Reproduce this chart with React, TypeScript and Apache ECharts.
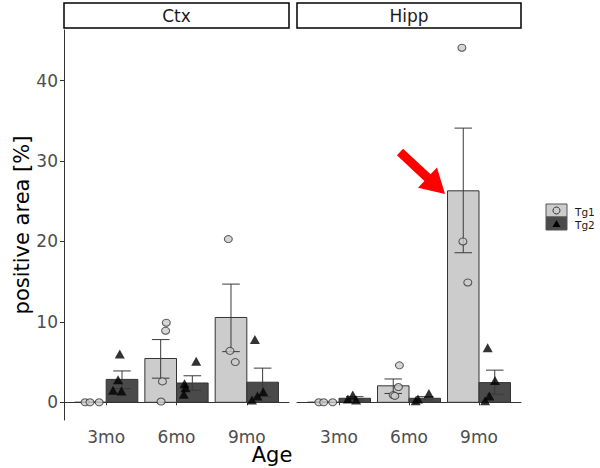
import React, { useEffect, useRef } from "react";
import * as echarts from "echarts";

const ages = ["3mo", "6mo", "9mo"];
const regions = ["Ctx", "Hipp"];
const groups = ["Tg1", "Tg2"];
const yTicks = [0, 10, 20, 30, 40];
const ageTicks = [1, 2, 3];

// bar means per age (3mo, 6mo, 9mo)
const ctxTg1Mean = [0, 5.45, 10.55];
const ctxTg2Mean = [2.85, 2.4, 2.5];
const hippTg1Mean = [0, 2.05, 26.3];
const hippTg2Mean = [0.5, 0.5, 2.45];

// error bars [low, high]
const ctxTg1Err = [[0, 0], [3.0, 7.8], [6.3, 14.7]];
const ctxTg2Err = [[1.7, 3.9], [1.5, 3.3], [0.7, 4.25]];
const hippTg1Err = [[0, 0], [1.1, 2.9], [18.6, 34.1]];
const hippTg2Err = [[0.3, 0.7], [0.3, 0.7], [1.0, 4.0]];

// individual animals [jittered x position on age axis, value]
const ctxTg1Pts = [[0.7, 0], [0.77, 0], [0.9, 0], [1.855, 9.9], [1.845, 8.9], [1.8, 2.6], [1.78, 0.1], [2.737, 20.3], [2.76, 6.4], [2.836, 5.0]];
const ctxTg2Pts = [[1.193, 6.0], [1.169, 2.8], [1.098, 1.5], [1.217, 1.4], [2.28, 5.1], [2.114, 2.3], [2.128, 1.8], [2.104, 1.0], [3.115, 7.8], [3.233, 1.3], [3.152, 0.8], [3.073, 0.3]];
const hippTg1Pts = [[0.712, 0], [0.782, 0], [0.91, 0], [1.863, 4.6], [1.849, 1.9], [1.774, 0.9], [1.798, 0.8], [2.756, 44.1], [2.77, 20.0], [2.84, 14.9]];
const hippTg2Pts = [[1.197, 0.9], [1.127, 0.4], [1.245, 0.3], [2.284, 1.1], [2.128, 0.4], [2.095, 0.2], [3.124, 6.8], [3.229, 2.7], [3.148, 0.8], [3.087, 0.2]];

const FONT = "DejaVu Sans";
const TG1_FILL = "#cccccc";
const TG2_FILL = "#4a4a4a";
const DODGE = 0.225;

function barSeries(name: string, grid: number, means: number[], offset: number, fill: string) {
  return {
    name,
    type: "custom",
    xAxisIndex: grid,
    yAxisIndex: grid,
    z: 2,
    data: means.map((m, i) => [i + 1 + offset, m]),
    renderItem: (params: any, api: any) => {
      const x = api.value(0);
      const y = api.value(1);
      const p1 = api.coord([x - DODGE, y]);
      const p2 = api.coord([x + DODGE, 0]);
      return {
        type: "rect",
        shape: {
          x: p1[0],
          y: Math.min(p1[1], p2[1]),
          width: p2[0] - p1[0],
          height: Math.abs(p2[1] - p1[1]),
        },
        style: { fill, stroke: "#333333", lineWidth: 1 },
      };
    },
  };
}

function errSeries(grid: number, errs: number[][], offset: number) {
  return {
    type: "custom",
    xAxisIndex: grid,
    yAxisIndex: grid,
    z: 3,
    data: errs.map((e, i) => [i + 1 + offset, e[0], e[1]]),
    renderItem: (params: any, api: any) => {
      const x = api.value(0);
      const lo = api.coord([x, api.value(1)]);
      const hi = api.coord([x, api.value(2)]);
      const l = api.coord([x - 0.125, 0])[0];
      const r = api.coord([x + 0.125, 0])[0];
      const st = { stroke: "#3a3a3a", lineWidth: 1 };
      return {
        type: "group",
        children: [
          { type: "line", shape: { x1: lo[0], y1: lo[1], x2: hi[0], y2: hi[1] }, style: st },
          { type: "line", shape: { x1: l, y1: lo[1], x2: r, y2: lo[1] }, style: st },
          { type: "line", shape: { x1: l, y1: hi[1], x2: r, y2: hi[1] }, style: st },
        ],
      };
    },
  };
}

function pointSeries(name: string, grid: number, pts: number[][], tri: boolean) {
  return {
    name,
    type: "scatter",
    xAxisIndex: grid,
    yAxisIndex: grid,
    z: 4,
    data: pts,
    symbol: tri ? "triangle" : "circle",
    symbolSize: tri ? [10, 9] : [8, 7],
    itemStyle: tri
      ? { color: "#000000" }
      : { color: TG1_FILL, borderColor: "#333333", borderWidth: 1 },
  };
}

export default function App() {
  const ref = useRef<HTMLDivElement>(null);
  useEffect(() => {
    if (!ref.current) return;
    const chart = echarts.init(ref.current, null, { renderer: "svg" });
    const grids = [
      { left: 64, top: 30, width: 225, height: 390 },
      { left: 297, top: 30, width: 224, height: 390 },
    ];
    const xAxis = grids.map((g, i) => ({
      type: "value",
      gridIndex: i,
      min: 0.4,
      max: 3.6,
      splitLine: { show: false },
      axisLine: { show: true, lineStyle: { color: "#333333", width: 1 } },
      axisTick: { show: true, length: 3, customValues: ageTicks, lineStyle: { color: "#333333" } },
      axisLabel: {
        customValues: ageTicks,
        formatter: (v: number) => ages[Math.round(v) - 1] ?? "",
        color: "#4d4d4d",
        fontFamily: FONT,
        fontSize: 17,
        margin: 8,
      },
    }));
    const yAxis = grids.map((g, i) => ({
      type: "value",
      gridIndex: i,
      min: -2.2,
      max: 46.3,
      show: i === 0,
      splitLine: { show: false },
      axisLine: { show: true, lineStyle: { color: "#333333", width: 1 } },
      axisTick: { show: true, length: 4, customValues: yTicks, lineStyle: { color: "#333333" } },
      axisLabel: {
        customValues: yTicks,
        color: "#4d4d4d",
        fontFamily: FONT,
        fontSize: 17,
        margin: 6,
      },
      name: i === 0 ? "positive area [%]" : "",
      nameLocation: "middle",
      nameGap: 31,
      nameTextStyle: { color: "#000000", fontFamily: FONT, fontSize: 21 },
    }));

    const graphic: any[] = [];
    grids.forEach((g, i) => {
      graphic.push({
        type: "rect",
        shape: { x: g.left, y: 3, width: g.width, height: 25 },
        style: { fill: "#ffffff", stroke: "#000000", lineWidth: 1.5 },
      });
      graphic.push({
        type: "text",
        x: g.left + g.width / 2,
        y: 16,
        style: {
          text: regions[i],
          fill: "#1a1a1a",
          font: `17px '${FONT}'`,
          textAlign: "center",
          textVerticalAlign: "middle",
        },
      });
    });
    graphic.push({
      type: "text",
      x: 272,
      y: 455,
      style: { text: "Age", fill: "#000000", font: `21px '${FONT}'`, textAlign: "center", textVerticalAlign: "middle" },
    });
    // legend
    graphic.push({ type: "rect", shape: { x: 546, y: 204, width: 21, height: 13 }, style: { fill: TG1_FILL, stroke: "#555555", lineWidth: 1 } });
    graphic.push({ type: "circle", shape: { cx: 556.5, cy: 210.5, r: 3.5 }, style: { fill: TG1_FILL, stroke: "#333333", lineWidth: 1 } });
    graphic.push({ type: "rect", shape: { x: 546, y: 217, width: 21, height: 13 }, style: { fill: TG2_FILL, stroke: "#555555", lineWidth: 1 } });
    graphic.push({ type: "polygon", shape: { points: [[552.5, 227], [560.5, 227], [556.5, 220]] }, style: { fill: "#000000" } });
    groups.forEach((gname, i) => {
      graphic.push({
        type: "text",
        x: 575,
        y: 212 + i * 13,
        style: { text: gname, fill: "#1a1a1a", font: `10.5px '${FONT}'`, textAlign: "left", textVerticalAlign: "middle" },
      });
    });
    // red arrow annotation
    graphic.push({
      type: "polygon",
      shape: {
        points: [
          [396.9, 155.3], [403.1, 148.7], [430.6, 174.3], [437.0, 167.4],
          [445, 194], [418.0, 187.8], [424.4, 180.9],
        ],
      },
      style: { fill: "#ff0000" },
      z: 10,
    });

    chart.setOption({
      animation: false,
      backgroundColor: "#ffffff",
      grid: grids,
      xAxis,
      yAxis,
      graphic,
      series: [
        barSeries("Tg1", 0, ctxTg1Mean, -DODGE, TG1_FILL),
        barSeries("Tg2", 0, ctxTg2Mean, DODGE, TG2_FILL),
        barSeries("Tg1", 1, hippTg1Mean, -DODGE, TG1_FILL),
        barSeries("Tg2", 1, hippTg2Mean, DODGE, TG2_FILL),
        errSeries(0, ctxTg1Err, -DODGE),
        errSeries(0, ctxTg2Err, DODGE),
        errSeries(1, hippTg1Err, -DODGE),
        errSeries(1, hippTg2Err, DODGE),
        pointSeries("Tg1", 0, ctxTg1Pts, false),
        pointSeries("Tg2", 0, ctxTg2Pts, true),
        pointSeries("Tg1", 1, hippTg1Pts, false),
        pointSeries("Tg2", 1, hippTg2Pts, true),
      ],
    });
    return () => chart.dispose();
  }, []);
  return (
    <div
      ref={ref}
      style={{ position: "fixed", left: 0, top: 0, width: 600, height: 468, background: "#fff" }}
    />
  );
}
